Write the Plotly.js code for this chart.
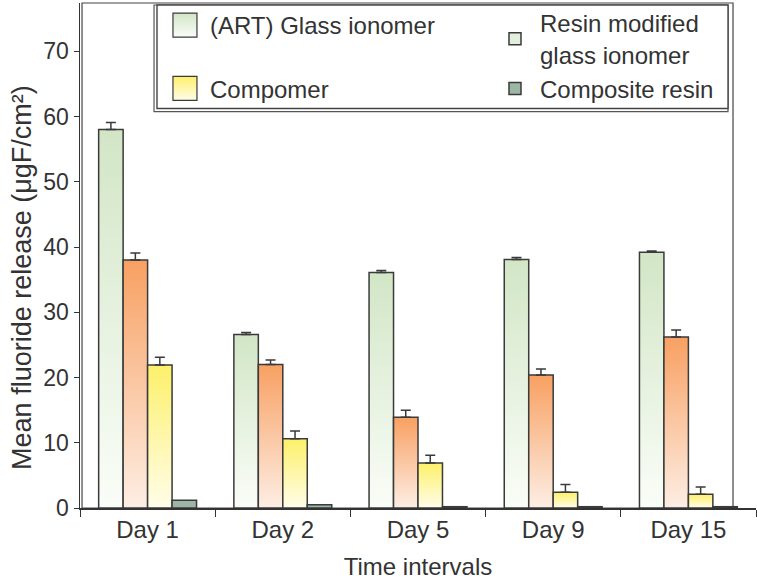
<!DOCTYPE html>
<html>
<head>
<meta charset="utf-8">
<script src="https://cdn.plot.ly/plotly-3.0.1.min.js"></script>
<style>
  html, body { margin: 0; padding: 0; background: #fff; }
  #plot { width: 757px; height: 580px; }
</style>
</head>
<body>
<div id="plot"></div>
<script>
const days = ['Day 1', 'Day 2', 'Day 5', 'Day 9', 'Day 15'];

const seriesNames = ['(ART) Glass ionomer', 'Resin modified<br>glass ionomer', 'Compomer', 'Composite resin'];

const artGlass = [58.0, 26.6, 36.1, 38.1, 39.2];
const artErr = [1.1, 0.3, 0.3, 0.3, 0.2];

const resinModified = [38.0, 22.0, 13.9, 20.4, 26.2];
const resinErr = [1.1, 0.7, 1.1, 0.9, 1.1];

const compomer = [21.9, 10.6, 6.9, 2.4, 2.1];
const compomerErr = [1.2, 1.2, 1.2, 1.2, 1.1];

const composite = [1.2, 0.5, 0.2, 0.2, 0.2];

// top / bottom colours of each bar's vertical fade
const barFades = [
    ['#d2e6c6', '#fafdf8'],
    ['#f8a062', '#fdeee4'],
    ['#fdf06a', '#fffde9'],
    null,
];
const legendFades = [
    ['#d2e6c6', '#fafdf8'],
    ['#d2e6c6', '#fafdf8'],
    ['#fdf06a', '#fffde9'],
    null,
];
// base colours (the original legend shows resin modified with a green swatch)
const solidColours = ['#e3efdc', '#e3efdc', '#fef6a8', '#9db7a6'];

// left legend column holds ART + Compomer, right one the other two
const legendIds = ['legend', 'legend2', 'legend', 'legend2'];
const legendGroups = ['g0', '', 'g2', ''];

const outline = { color: '#3a3a3a', width: 1.5 };
const font = 'Liberation Sans, Arial, sans-serif';

function barTrace(name, values, err, i) {
    const trace = {
        type: 'bar',
        name,
        x: days,
        y: values,
        legend: legendIds[i],
        legendgroup: legendGroups[i],
        marker: { color: solidColours[i], line: outline },
    };
    if (err) {
        trace.error_y = {
            type: 'data',
            symmetric: false,
            array: err,
            arrayminus: err.map(() => 0),
            color: '#3a3a3a',
            thickness: 1.5,
            width: 5,
        };
    }
    return trace;
}

const data = [
    barTrace(seriesNames[0], artGlass, artErr, 0),
    barTrace(seriesNames[1], resinModified, resinErr, 1),
    barTrace(seriesNames[2], compomer, compomerErr, 2),
    barTrace(seriesNames[3], composite, null, 3),
];

const legendBase = {
    xanchor: 'left',
    yanchor: 'top',
    bgcolor: 'rgba(0,0,0,0)',
    borderwidth: 0,
    itemwidth: 40,
    font: { family: font, size: 24, color: '#333' },
};

const layout = {
    width: 757,
    height: 580,
    margin: { l: 80, r: 1, t: 1, b: 72 },
    paper_bgcolor: '#fff',
    plot_bgcolor: '#fff',
    font: { family: font, color: '#333', size: 23 },
    barmode: 'group',
    bargap: 0.276,
    bargroupgap: 0,
    showlegend: true,
    legend: Object.assign({}, legendBase, { x: 0.1183, y: 1.0, tracegroupgap: 29 }),
    legend2: Object.assign({}, legendBase, { x: 0.6065, y: 1.004 }),
    xaxis: {
        type: 'category',
        range: [-0.5, 4.5],
        showline: true,
        linecolor: '#333',
        linewidth: 1.5,
        ticks: 'outside',
        tickson: 'boundaries',
        ticklen: 7,
        tickcolor: '#333',
        tickfont: { family: font, size: 24, color: '#333' },
        showgrid: false,
        zeroline: false,
        title: { text: 'Time intervals', font: { family: font, size: 24, color: '#333' }, standoff: 27 },
    },
    yaxis: {
        range: [0, 77.4],
        dtick: 10,
        showline: true,
        linecolor: '#333',
        linewidth: 1.5,
        ticks: 'outside',
        ticklen: 5,
        tickcolor: '#333',
        tickfont: { family: font, size: 23, color: '#333' },
        showgrid: false,
        zeroline: false,
    },
    annotations: [
        {
            // y title sits a little below the axis middle in the original
            text: 'Mean fluoride release (μgF/cm²)',
            xref: 'paper', yref: 'paper',
            x: -0.0858, y: 0.4576,
            xanchor: 'center', yanchor: 'middle',
            textangle: -90,
            showarrow: false,
            font: { family: font, size: 27, color: '#333' },
        },
    ],
    shapes: [
        // plot frame
        {
            type: 'rect', xref: 'paper', yref: 'paper', layer: 'below',
            x0: 0.003, x1: 0.966, y0: 0, y1: 1,
            line: { color: '#444', width: 1.2 },
        },
        // legend box, drawn double on the left and bottom
        {
            type: 'rect', xref: 'paper', yref: 'paper', layer: 'below',
            x0: 0.1095, x1: 0.9586, y0: 0.785, y1: 0.996,
            fillcolor: '#fff',
            line: { color: '#555', width: 1.2 },
        },
        {
            type: 'rect', xref: 'paper', yref: 'paper', layer: 'below',
            x0: 0.1139, x1: 0.9586, y0: 0.791, y1: 0.996,
            fillcolor: '#fff',
            line: { color: '#444', width: 1.4 },
        },
    ],
};

function addFade(defs, id, top, bottom) {
    if (document.getElementById(id)) return;
    const ns = 'http://www.w3.org/2000/svg';
    const grad = document.createElementNS(ns, 'linearGradient');
    grad.setAttribute('id', id);
    grad.setAttribute('x1', '0');
    grad.setAttribute('y1', '0');
    grad.setAttribute('x2', '0');
    grad.setAttribute('y2', '1');
    [[0, top], [1, bottom]].forEach(([off, col]) => {
        const stop = document.createElementNS(ns, 'stop');
        stop.setAttribute('offset', off);
        stop.setAttribute('stop-color', col);
        grad.appendChild(stop);
    });
    defs.appendChild(grad);
}

function styleSwatch(item, i) {
    const p = item.querySelector('.legendpoints path');
    if (!p) return;
    // two-line entry: keep the swatch level with its first line
    const lift = i === 1 ? -15.6 : 0;
    p.setAttribute('d', 'M12,' + (12 + lift) + 'H-12V' + (-12 + lift) + 'H12Z');
    p.style.strokeWidth = '1.2px';
    p.style.fill = legendFades[i] ? 'url(#legFade' + i + ')' : solidColours[i];
}

function applyStyles(gd) {
    const svg = gd.querySelector('svg.main-svg');
    const defs = svg.querySelector('defs');

    barFades.forEach((f, i) => { if (f) addFade(defs, 'barFade' + i, f[0], f[1]); });
    legendFades.forEach((f, i) => { if (f) addFade(defs, 'legFade' + i, f[0], f[1]); });

    gd.querySelectorAll('.barlayer .trace.bars').forEach((g, i) => {
        if (!barFades[i]) return;
        g.querySelectorAll('.point path').forEach((p) => {
            p.style.fill = 'url(#barFade' + i + ')';
        });
    });

    gd.querySelectorAll('text.legendtext').forEach((t) => {
        const txt = t.textContent || '';
        const i = seriesNames.findIndex((n) => txt.replace(/\s/g, '').startsWith(n.split('<br>')[0].replace(/\s/g, '')));
        const item = t.closest('.traces') || t.parentNode;
        if (i < 0 || !item) return;
        styleSwatch(item, i);
    });
}

Plotly.newPlot('plot', data, layout, { displayModeBar: false, staticPlot: true }).then((gd) => {
    applyStyles(gd);
    gd.on('plotly_afterplot', () => applyStyles(gd));
    setTimeout(() => applyStyles(gd), 0);
    setTimeout(() => applyStyles(gd), 200);
});
</script>
</body>
</html>
